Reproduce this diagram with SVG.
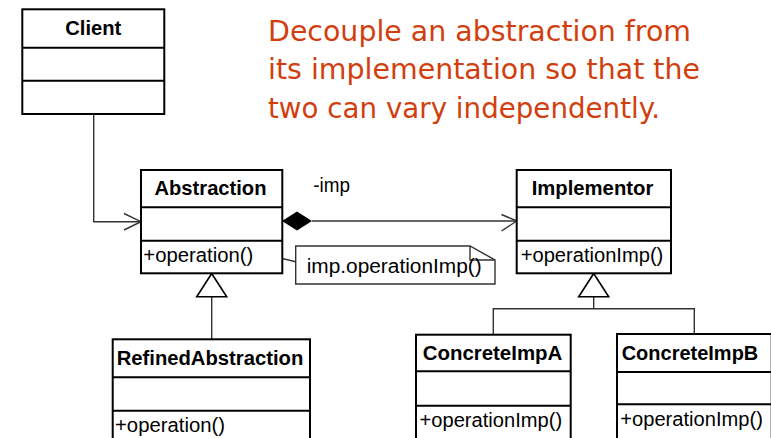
<svg xmlns="http://www.w3.org/2000/svg" width="771" height="438" viewBox="0 0 771 438">
<style>
.box{fill:#fff;stroke:#000;stroke-width:2}
.div{stroke:#000;stroke-width:2}
.t{font-family:"Liberation Sans",Arial,sans-serif;font-size:19.5px;font-weight:bold;fill:#000;text-anchor:middle}
.m{font-family:"Liberation Sans",Arial,sans-serif;font-size:20px;fill:#000}
.c{fill:none;stroke:#333;stroke-width:1.4}
.title{font-family:"DejaVu Sans","Noto Sans",sans-serif;font-size:28px;fill:#d23e0e}
</style>
<rect width="771" height="438" fill="#fff"/>
<g id="title">
<text class="title" x="268" y="41" textLength="423" lengthAdjust="spacingAndGlyphs">Decouple an abstraction from</text>
<text class="title" x="268" y="79" textLength="432" lengthAdjust="spacingAndGlyphs">its implementation so that the</text>
<text class="title" x="268" y="117.5" textLength="392" lengthAdjust="spacingAndGlyphs">two can vary independently.</text>
</g>
<g id="connectors">
<polyline class="c" points="93.7,114 93.7,221.7 141,221.7"/>
<polyline class="c" points="124,213.5 141,221.7 124,230"/>
<line class="c" x1="312" y1="221" x2="516.7" y2="221"/>
<polygon points="282,221 297,211.5 312,221 297,230.5" fill="#000"/>
<polyline class="c" points="501.5,214.5 516.7,221 501.5,231"/>
<line class="c" x1="265" y1="254.3" x2="295.7" y2="261.7"/>
<line class="c" x1="211.7" y1="296.7" x2="211.7" y2="339.3"/>
<polygon points="211.7,273.5 196.7,296.7 226.7,296.7" fill="#fff" stroke="#000" stroke-width="1.6"/>
<polyline class="c" points="493.3,334.7 493.3,308.8 694.3,308.8 694.3,334"/>
<line class="c" x1="593.7" y1="296.7" x2="593.7" y2="308.8"/>
<polygon points="593.7,273.5 578.7,296.7 608.7,296.7" fill="#fff" stroke="#000" stroke-width="1.6"/>
<text class="m" x="313.3" y="191.5" textLength="36.7" lengthAdjust="spacingAndGlyphs">-imp</text>
</g>
<g id="note">
<path d="M295.7,246 H470 L495,260 V284 H295.7 Z" fill="#fff" stroke="#333" stroke-width="1.4"/>
<polyline points="470,246 470,260 495,260" fill="none" stroke="#333" stroke-width="1.4"/>
<text class="m" x="306.7" y="273" textLength="175" lengthAdjust="spacingAndGlyphs">imp.operationImp()</text>
</g>
<g id="client">
<rect class="box" x="22.3" y="9.3" width="142" height="104.7"/>
<line class="div" x1="22.3" y1="47.7" x2="164.3" y2="47.7"/>
<line class="div" x1="22.3" y1="80.7" x2="164.3" y2="80.7"/>
<text class="t" x="93.3" y="35" textLength="56" lengthAdjust="spacingAndGlyphs">Client</text>
</g>
<g id="abstraction">
<rect class="box" x="141" y="170" width="141.3" height="103.3"/>
<line class="div" x1="141" y1="207.3" x2="282.3" y2="207.3"/>
<line class="div" x1="141" y1="240.7" x2="282.3" y2="240.7"/>
<text class="t" x="210.5" y="195" textLength="112" lengthAdjust="spacingAndGlyphs">Abstraction</text>
<text class="m" x="143.3" y="262" textLength="110" lengthAdjust="spacingAndGlyphs">+operation()</text>
</g>
<g id="implementor">
<rect class="box" x="516.7" y="170" width="154.3" height="103.3"/>
<line class="div" x1="516.7" y1="207.3" x2="671" y2="207.3"/>
<line class="div" x1="516.7" y1="240.7" x2="671" y2="240.7"/>
<text class="t" x="592.5" y="195" textLength="121.6" lengthAdjust="spacingAndGlyphs">Implementor</text>
<text class="m" x="520.7" y="262" textLength="142.6" lengthAdjust="spacingAndGlyphs">+operationImp()</text>
</g>
<g id="refinedAbstraction">
<rect class="box" x="112.7" y="339.3" width="197.3" height="110"/>
<line class="div" x1="112.7" y1="377.3" x2="310" y2="377.3"/>
<line class="div" x1="112.7" y1="410.7" x2="310" y2="410.7"/>
<text class="t" x="210" y="365" textLength="186.7" lengthAdjust="spacingAndGlyphs">RefinedAbstraction</text>
<text class="m" x="115" y="432" textLength="110" lengthAdjust="spacingAndGlyphs">+operation()</text>
</g>
<g id="concreteImpA">
<rect class="box" x="416" y="334.7" width="154.7" height="115"/>
<line class="div" x1="416" y1="371.3" x2="570.7" y2="371.3"/>
<line class="div" x1="416" y1="405.7" x2="570.7" y2="405.7"/>
<text class="t" x="492.5" y="360" textLength="139.6" lengthAdjust="spacingAndGlyphs">ConcreteImpA</text>
<text class="m" x="419.5" y="427" textLength="142.6" lengthAdjust="spacingAndGlyphs">+operationImp()</text>
</g>
<g id="concreteImpB">
<rect class="box" x="617" y="334" width="154.7" height="115"/>
<line class="div" x1="617" y1="372" x2="771.7" y2="372"/>
<line class="div" x1="617" y1="404.3" x2="771.7" y2="404.3"/>
<text class="t" x="690" y="359.5" textLength="136.6" lengthAdjust="spacingAndGlyphs">ConcreteImpB</text>
<text class="m" x="620.3" y="425.5" textLength="142.6" lengthAdjust="spacingAndGlyphs">+operationImp()</text>
</g>
</svg>
